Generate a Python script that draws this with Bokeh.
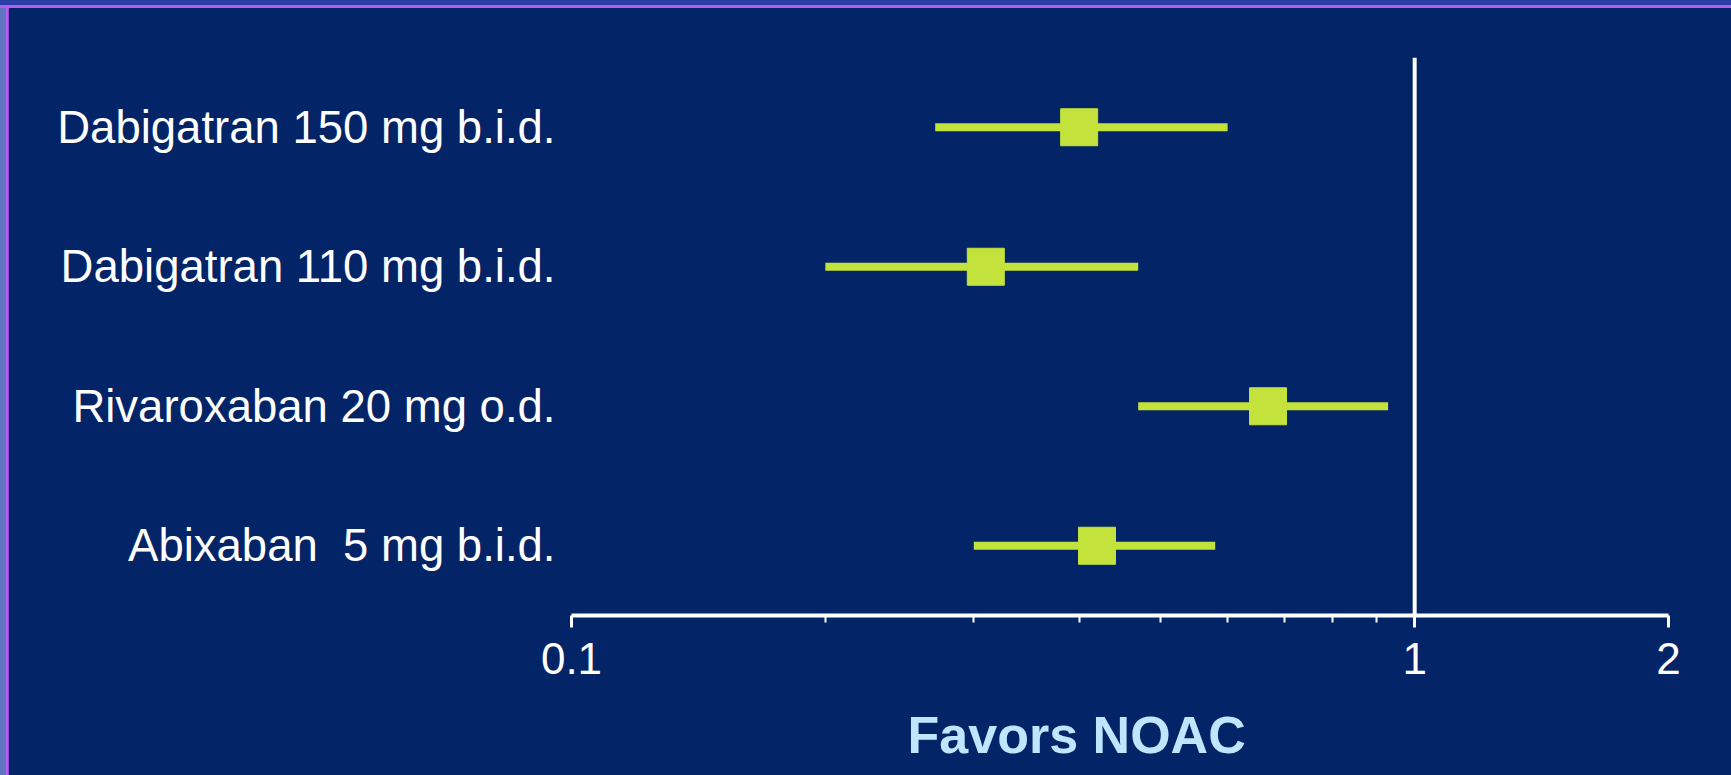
from bokeh.plotting import figure
from bokeh.models import (Range1d, FactorRange, FixedTicker, NumeralTickFormatter,
                          Span, GlobalInlineStyleSheet)
from bokeh.embed import file_html
from bokeh.resources import INLINE

# ---- data ----
labels = ["Dabigatran 150 mg b.i.d.", "Dabigatran 110 mg b.i.d.",
          "Rivaroxaban 20 mg o.d.", "Abixaban \u00a05 mg b.i.d."]
rr = [0.40, 0.31, 0.67, 0.42]
ci_low = [0.27, 0.20, 0.47, 0.30]
ci_high = [0.60, 0.47, 0.93, 0.58]
major_ticks = [0.1, 1, 2]
minor_ticks = [0.2, 0.3, 0.4, 0.5, 0.6, 0.7, 0.8, 0.9]
x_label = "Favors NOAC"

NAVY = "#032466"
GREEN = "#c3e23c"
FONT = "Liberation Sans"

css = f"""
html {{ background-color: {NAVY}; overflow: hidden; }}
body {{
  padding: 8px !important;
  overflow: hidden;
  background-color: {NAVY};
  background-image:
    linear-gradient(to bottom, #2b3ea6 0px, #2b3ea6 5px, #b65cf0 5px, #b65cf0 8px, transparent 8px),
    linear-gradient(to right, #5f75c1 0px, #5f75c1 6px, #b65cf0 6px, #b65cf0 9px, transparent 9px);
  background-repeat: no-repeat;
}}
"""

p = figure(width=1715, height=767, output_backend="svg", toolbar_location=None,
           x_axis_type="log", x_range=Range1d(0.1, 2),
           y_range=FactorRange(factors=list(reversed(labels))),
           min_border_left=563, min_border_right=55, min_border_top=49,
           min_border_bottom=160)
p.stylesheets = [GlobalInlineStyleSheet(css=css)]

p.background_fill_color = NAVY
p.border_fill_color = NAVY
p.outline_line_color = None
p.grid.visible = False

# reference line at 1
p.add_layout(Span(location=1, dimension="height", line_color="white", line_width=4))

# CIs and point estimates
p.segment(x0=ci_low, y0=labels, x1=ci_high, y1=labels, line_color=GREEN, line_width=8)
p.scatter(x=rr, y=labels, marker="square", size=37, fill_color=GREEN, line_color=GREEN)

# x axis
xa = p.xaxis[0]
xa.ticker = FixedTicker(ticks=major_ticks, minor_ticks=minor_ticks)
xa.formatter = NumeralTickFormatter(format="0.[0]")
xa.axis_line_color = "white"
xa.axis_line_width = 4
xa.major_tick_line_color = "white"
xa.major_tick_line_width = 3
xa.major_tick_in = 0
xa.major_tick_out = 12
xa.minor_tick_line_color = "white"
xa.minor_tick_line_width = 2
xa.minor_tick_in = 0
xa.minor_tick_out = 7
xa.major_label_text_color = "white"
xa.major_label_text_font = FONT
xa.major_label_text_font_size = "44px"
xa.major_label_standoff = 15
# axis label, shifted left of the frame centre by trailing non-breaking spaces
xa.axis_label = x_label + "\u00a0" * 6
xa.axis_label_text_font = FONT
xa.axis_label_text_font_style = "bold"
xa.axis_label_text_font_size = "52px"
xa.axis_label_text_color = "#c0e6ff"
xa.axis_label_standoff = 29

# y axis
ya = p.yaxis[0]
ya.axis_line_color = None
ya.major_tick_line_color = None
ya.minor_tick_line_color = None
ya.major_tick_in = 0
ya.major_tick_out = 0
ya.major_label_standoff = 16
ya.major_label_text_color = "white"
ya.major_label_text_font = FONT
ya.major_label_text_font_size = "45.5px"

open("out.html", "w").write(file_html(p, INLINE))
